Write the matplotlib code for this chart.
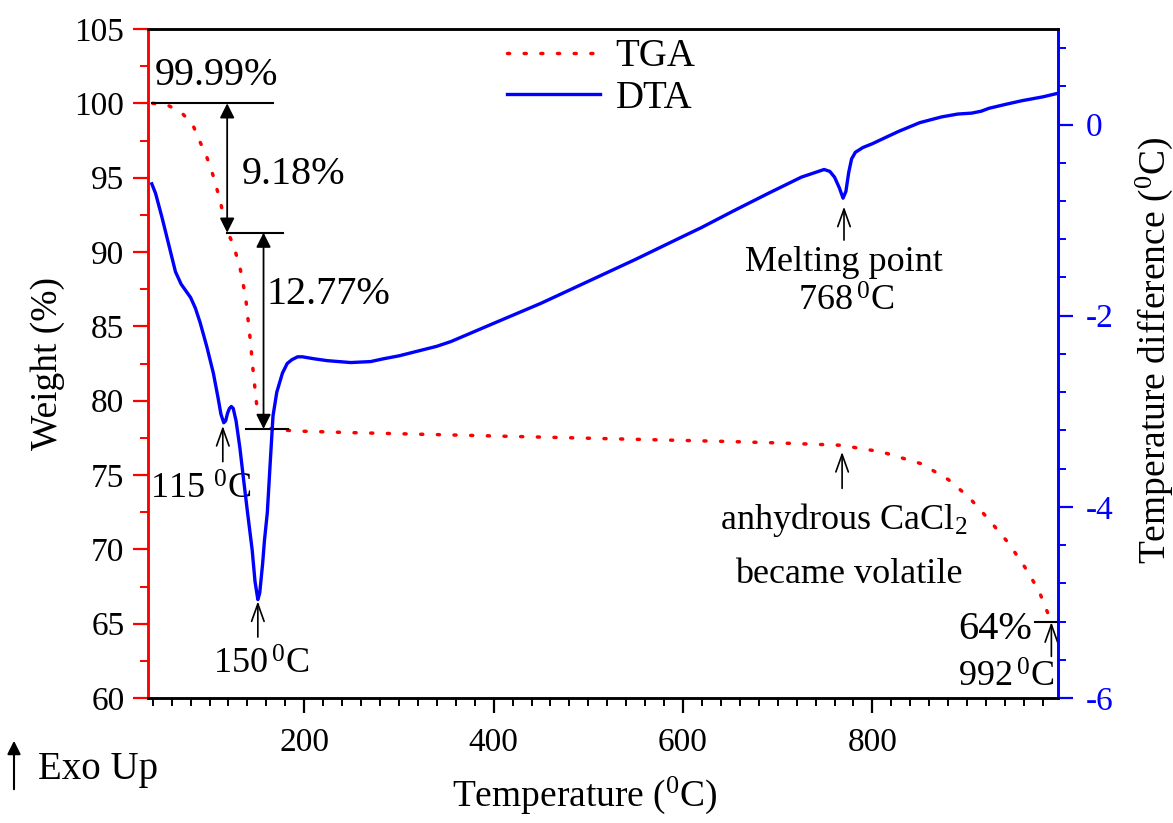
import matplotlib
matplotlib.use("Agg")
import matplotlib.pyplot as plt
from matplotlib.ticker import MultipleLocator

plt.rcParams['font.family'] = ['Liberation Serif', 'DejaVu Serif']
plt.rcParams['mathtext.fontset'] = 'custom'
plt.rcParams['mathtext.rm'] = 'Liberation Serif'
plt.rcParams['mathtext.it'] = 'Liberation Serif:italic'
plt.rcParams['axes.unicode_minus'] = False

# TGA (weight %)
tga_t = [40, 55, 70, 82, 90, 97, 104, 111, 118, 125, 132, 138, 143, 146, 150, 155, 159,
         170, 196, 250, 351, 450, 550, 650, 704, 767, 810, 852, 880, 902, 923, 944, 961,
         976, 982, 990]
tga_w = [100.0, 99.9, 99.4, 98.6, 97.4, 96.4, 95.1, 93.5, 91.5, 90.5, 89.0, 87.0, 84.1,
         82.0, 79.6, 78.6, 78.2, 78.05, 77.95, 77.85, 77.7, 77.55, 77.4, 77.25, 77.15,
         77.0, 76.55, 75.75, 74.7, 73.5, 72.0, 70.4, 68.8, 67.2, 66.2, 65.0]

# DTA (temperature difference, C)
dta_t = [39, 43, 50, 58, 64, 70, 75, 80, 85, 90, 97, 104, 109, 112, 115, 117, 119, 121,
         123, 125, 128, 132, 136, 140, 145, 148, 151, 153, 156, 158, 161, 164, 167, 171,
         177, 182, 187, 193, 198, 210, 224, 249, 270, 284, 300, 320, 340, 355, 400, 450,
         500, 550, 600, 619, 654, 690, 725, 740, 749, 755, 760, 765, 769, 772, 775, 778,
         782, 790, 800, 815, 828, 850, 873, 890, 905, 915, 923, 940, 958, 980, 997]
dta_v = [-0.62, -0.72, -0.98, -1.30, -1.54, -1.67, -1.74, -1.81, -1.92, -2.07, -2.32,
         -2.60, -2.86, -3.03, -3.12, -3.10, -3.02, -2.97, -2.95, -2.97, -3.10, -3.38,
         -3.72, -4.05, -4.45, -4.78, -4.97, -4.90, -4.60, -4.35, -4.06, -3.55, -3.05,
         -2.80, -2.60, -2.50, -2.46, -2.43, -2.43, -2.45, -2.47, -2.49, -2.48, -2.45,
         -2.42, -2.37, -2.32, -2.27, -2.08, -1.87, -1.64, -1.41, -1.17, -1.08, -0.90,
         -0.72, -0.55, -0.50, -0.47, -0.49, -0.55, -0.66, -0.77, -0.70, -0.50, -0.36,
         -0.29, -0.24, -0.20, -0.13, -0.07, 0.02, 0.08, 0.11, 0.12, 0.14, 0.17, 0.21,
         0.25, 0.29, 0.33]

fs_tick = 24
fs_ann = 26
fs_pct = 29

fig = plt.figure(figsize=(11.73, 8.23), dpi=100)
ax = fig.add_axes([148/1173, 1-698/823, 910/1173, 669/823])
ax2 = ax.twinx()

l1, = ax.plot(tga_t, tga_w, color='red', lw=2.5, linestyle=(0, (0.6, 4.2)),
              dash_capstyle='round', label='TGA')
l2, = ax2.plot(dta_t, dta_v, color='blue', lw=2.4, label='DTA')

ax.set_xlim(35, 996)
ax.set_ylim(60, 105)
ax2.set_ylim(-6, 1)

ax.xaxis.set_major_locator(MultipleLocator(200))
ax.xaxis.set_minor_locator(MultipleLocator(20))
ax.yaxis.set_major_locator(MultipleLocator(5))
ax.yaxis.set_minor_locator(MultipleLocator(2.5))
ax2.yaxis.set_major_locator(MultipleLocator(2))
ax2.yaxis.set_minor_locator(MultipleLocator(0.4))

ax.spines['left'].set_color('red')
ax2.spines['left'].set_color('red')
ax2.spines['right'].set_color('blue')
for a in (ax, ax2):
    for s in a.spines.values():
        s.set_linewidth(1.8)
ax.tick_params(axis='x', which='major', length=11, width=1.6, labelsize=fs_tick, pad=10, top=False)
ax.tick_params(axis='x', which='minor', length=6, width=1.4, top=False)
ax.tick_params(axis='y', which='major', length=11, width=1.6, color='red', labelsize=fs_tick, pad=6)
ax.tick_params(axis='y', which='minor', length=6, width=1.4, color='red')
ax2.tick_params(axis='y', which='major', length=11, width=1.6, color='blue',
                labelcolor='blue', labelsize=fs_tick, pad=9)
ax2.tick_params(axis='y', which='minor', length=6, width=1.4, color='blue')
ax.set_xticks([200, 400, 600, 800])

ax.set_xlabel('Temperature ($^{0}$C)', fontsize=27)
ax.xaxis.set_label_coords(0.48, -0.115)
ax.set_ylabel('Weight (%)', fontsize=27)
ax.yaxis.set_label_coords(-0.091, 0.5)
ax2.set_ylabel('Temperature difference ($^{0}$C)', fontsize=27)
ax2.yaxis.set_label_coords(1.083, 0.52)

leg = ax.legend([l1, l2], ['TGA', 'DTA'], loc='upper left', bbox_to_anchor=(0.394, 0.986),
                frameon=False, fontsize=28, handlelength=2.4, handletextpad=0.4,
                labelspacing=0.12, borderpad=0, borderaxespad=0)

# annotations (weight axis coordinates)
dbl = dict(arrowstyle='<|-|>', color='black', lw=1.3, mutation_scale=22, shrinkA=0, shrinkB=0)
opn = dict(arrowstyle='->,head_length=0.7,head_width=0.25', color='black', lw=1.2,
           mutation_scale=18, shrinkA=0, shrinkB=0)

ax.plot([39, 167], [100, 100], color='black', lw=1.5)
ax.text(42, 100.6, '99.99%', fontsize=fs_pct, va='bottom', ha='left')
ax.annotate('', xy=(118.6, 91.3), xytext=(118.6, 100), arrowprops=dbl)
ax.text(134, 95.2, '9.18%', fontsize=fs_pct, va='center', ha='left')
ax.plot([118, 178], [91.3, 91.3], color='black', lw=1.5)
ax.annotate('', xy=(157, 78.1), xytext=(157, 91.3), arrowprops=dbl)
ax.text(160, 87.15, '12.77%', fontsize=fs_pct, va='center', ha='left')
ax.plot([138, 183], [78.1, 78.1], color='black', lw=1.5)

ax.annotate('', xy=(114, 78.3), xytext=(114, 75.9), arrowprops=opn)
ax.text(90, 74.0, '115 $^{0}$C', fontsize=fs_ann, va='center', ha='center')
ax.annotate('', xy=(151, 66.5), xytext=(151, 64.1), arrowprops=opn)
ax.text(155, 62.2, '150$\\,^{0}$C', fontsize=fs_ann, va='center', ha='center')

ax.annotate('', xy=(770, 93.05), xytext=(770, 90.8), arrowprops=opn)
ax.text(770, 89.3, 'Melting point', fontsize=fs_ann, va='center', ha='center')
ax.text(772, 86.6, '768$\\,^{0}$C', fontsize=fs_ann, va='center', ha='center')

ax.annotate('', xy=(768, 76.55), xytext=(768, 74.1), arrowprops=opn)
ax.text(770, 72.0, 'anhydrous CaCl$_{2}$', fontsize=fs_ann, va='center', ha='center')
ax.text(775, 68.3, 'became volatile', fontsize=fs_ann, va='center', ha='center')

ax.plot([972, 995], [65.1, 65.1], color='black', lw=1.5)
ax.annotate('', xy=(989, 65.1), xytext=(989, 62.8), arrowprops=opn)
ax.text(969, 64.6, '64%', fontsize=fs_pct, va='center', ha='right')
ax.text(992, 61.3, '992$\\,^{0}$C', fontsize=fs_ann, va='center', ha='right')

# Exo Up marker below the axes
fig.patches.append(matplotlib.patches.FancyArrowPatch(
    (14/1173, 1-792/823), (14/1173, 1-738/823), transform=fig.transFigure,
    arrowstyle='-|>', mutation_scale=20, lw=1.5, color='black'))
fig.text(38/1173, 1-770/823, 'Exo Up', fontsize=28, va='center', ha='left')

fig.savefig('out.png', dpi=100)
